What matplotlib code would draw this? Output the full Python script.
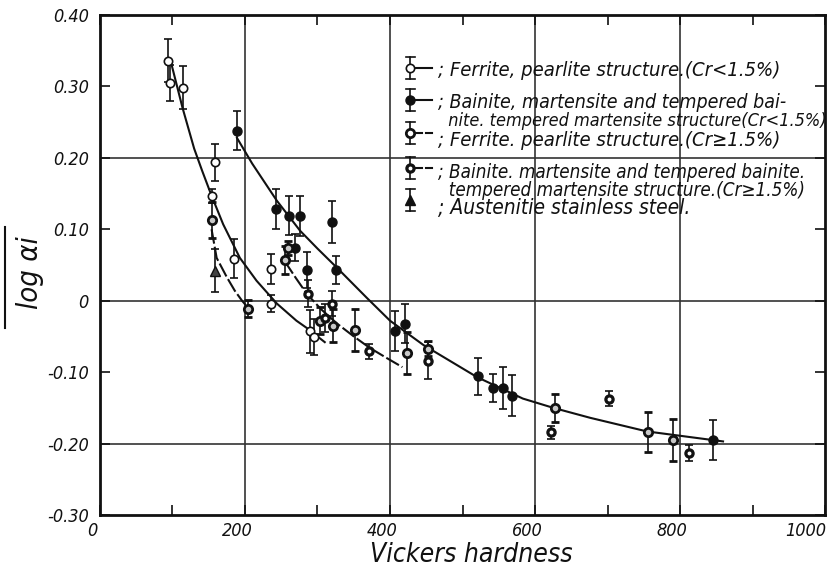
import matplotlib
matplotlib.use("Agg")
import matplotlib.pyplot as plt
from matplotlib.lines import Line2D
from matplotlib.transforms import ScaledTranslation

plt.rcParams['font.family'] = ['DejaVu Sans']
plt.rcParams['font.style'] = 'italic'
plt.rcParams['font.stretch'] = 'condensed'

# Ferrite, pearlite structure (Cr < 1.5%) - open circles
x_open = [94, 97, 114, 159, 154, 185, 236, 236, 290, 295]
y_open = [0.336, 0.305, 0.298, 0.194, 0.147, 0.059, 0.045, -0.004, -0.043, -0.051]
e_open = [0.03, 0.025, 0.03, 0.026, 0.01, 0.027, 0.021, 0.012, 0.03, 0.025]

# Bainite, martensite ... (Cr < 1.5%) - black circles
x_bain = [189, 243, 261, 276, 320, 326, 269, 286, 407, 421, 521, 542, 556, 568, 845]
y_bain = [0.238, 0.129, 0.119, 0.119, 0.11, 0.043, 0.074, 0.043, -0.042, -0.032,
          -0.106, -0.122, -0.122, -0.133, -0.195]
e_bain = [0.027, 0.028, 0.027, 0.028, 0.029, 0.02, 0.019, 0.025, 0.028, 0.027,
          0.026, 0.02, 0.029, 0.029, 0.028]

# Ferrite, pearlite structure (Cr >= 1.5%) - ringed circles
x_fcr = [154, 204, 255, 259, 303, 322, 352, 424, 452, 628, 756, 790]
y_fcr = [0.113, -0.011, 0.057, 0.074, -0.028, -0.035, -0.041, -0.073, -0.067,
         -0.15, -0.184, -0.195]
e_fcr = [0.025, 0.012, 0.02, 0.01, 0.019, 0.023, 0.029, 0.029, 0.01, 0.02, 0.028, 0.03]

# Bainite, martensite ... (Cr >= 1.5%) - black with dot
x_bcr = [287, 320, 371, 452, 622, 702, 812, 310]
y_bcr = [0.01, -0.004, -0.071, -0.084, -0.184, -0.137, -0.213, -0.024]
e_bcr = [0.019, 0.017, 0.011, 0.026, 0.009, 0.011, 0.011, 0.02]

# Austenitic stainless steel - triangle
x_aus = [159]
y_aus = [0.042]
e_aus = [0.03]

# curves
cA_x = [99, 114, 130, 141, 154, 170, 193, 216, 244, 271, 285, 310]
cA_y = [0.33, 0.27, 0.213, 0.182, 0.147, 0.107, 0.06, 0.028, -0.004, -0.028, -0.038, -0.058]
cB_x = [154, 161, 175, 186, 196, 201]
cB_y = [0.1, 0.06, 0.033, 0.014, 0.0, -0.006]
cC_x = [189, 210, 244, 276, 300, 327, 368, 400, 446, 520, 583, 625, 676, 754, 859]
cC_y = [0.228, 0.192, 0.14, 0.098, 0.073, 0.046, 0.004, -0.028, -0.062, -0.107,
        -0.137, -0.15, -0.164, -0.183, -0.197]
cD_x = [255, 270, 285, 305, 327, 350, 372, 395, 417]
cD_y = [0.055, 0.032, 0.01, -0.012, -0.032, -0.05, -0.066, -0.08, -0.093]

grid_x = [200, 400, 600, 800]
grid_y = [-0.2, 0.0, 0.2]
yticks = [-0.3, -0.2, -0.1, 0.0, 0.1, 0.2, 0.3, 0.4]
ylabels = ['-0.30', '-0.20', '-0.10', '0', '0.10', '0.20', '0.30', '0.40']
xticks = [0, 200, 400, 600, 800, 1000]

K = '#111111'

fig = plt.figure(figsize=(8.32, 5.72), dpi=100)
ax = fig.add_axes([0.120, 0.0997, 0.872, 0.874])
ax.set_xlim(0, 1000)
ax.set_ylim(-0.30, 0.40)

for gx in grid_x:
    ax.axvline(gx, color='#333333', lw=1.2, zorder=0)
for gy in grid_y:
    ax.axhline(gy, color='#333333', lw=1.2, zorder=0)

ax.plot(cA_x, cA_y, color=K, lw=1.5)
ax.plot(cB_x, cB_y, color=K, lw=1.5, ls=(0, (7, 1.5)))
ax.plot(cC_x, cC_y, color=K, lw=1.5)
ax.plot(cD_x, cD_y, color=K, lw=1.5, ls=(0, (7, 1.5)))

eb = dict(ecolor=K, elinewidth=1.2, capsize=3, capthick=1.2, ls='none', zorder=3)
ax.errorbar(x_open, y_open, yerr=e_open, fmt='o', ms=6, mfc='white', mec=K, mew=1.2, **eb)
ax.errorbar(x_bain, y_bain, yerr=e_bain, fmt='o', ms=6.5, mfc=K, mec=K, **eb)
ax.errorbar(x_fcr, y_fcr, yerr=e_fcr, fmt='o', ms=6, mfc='#c8c8c8', mec=K, mew=2.0, **eb)
ax.errorbar(x_bcr, y_bcr, yerr=e_bcr, fmt='o', ms=6.5, mfc=K, mec=K, **eb)
ax.plot(x_bcr, y_bcr, 'o', ms=1.8, mfc='white', mec='white', zorder=4)
ax.errorbar(x_aus, y_aus, yerr=e_aus, fmt='^', ms=6.5, mfc='#444444', mec=K, **eb)

ax.set_xticks(xticks)
ax.set_xticks(range(100, 1000, 200), minor=True)
ax.set_yticks(yticks)
ax.set_yticklabels(ylabels)
ax.tick_params(which='both', direction='in', top=True, right=True, length=7,
               width=1.2, labelsize=13, color=K, labelcolor=K)
ax.tick_params(axis='x', pad=5)
ax.tick_params(axis='y', pad=8)
xlabs = ax.get_xticklabels()
for i, lab in enumerate(xlabs):
    dx = -20 if i == len(xlabs) - 1 else -8
    lab.set_transform(lab.get_transform() + ScaledTranslation(dx / 100, 0, fig.dpi_scale_trans))
for s in ax.spines.values():
    s.set_linewidth(2)
    s.set_color(K)

# legend drawn by hand
rows = [
    (0.894, 'open', '-', [(0.89, '; Ferrite, pearlite structure.(Cr<1.5%)', 14.5)]),
    (0.830, 'black', '-', [(0.826, '; Bainite, martensite and tempered bai-', 14),
                           (0.788, '  nite. tempered martensite structure(Cr<1.5%)', 13)]),
    (0.764, 'ring', '--', [(0.750, '; Ferrite. pearlite structure.(Cr≥1.5%)', 14.5)]),
    (0.694, 'bdot', '--', [(0.686, '; Bainite. martensite and tempered bainite.', 13.5),
                           (0.650, '  tempered martensite structure.(Cr≥1.5%)', 13.5)]),
    (0.630, 'tri', None, [(0.614, '; Austenitie stainless steel.', 15)]),
]
tr = ax.transAxes
for ys, kind, lstyle, texts in rows:
    xs = 0.428
    h = 0.022
    ax.plot([xs, xs], [ys - h, ys + h], color=K, lw=1.2, transform=tr)
    ax.plot([xs - 0.006, xs + 0.006], [ys + h] * 2, color=K, lw=1.2, transform=tr)
    ax.plot([xs - 0.006, xs + 0.006], [ys - h] * 2, color=K, lw=1.2, transform=tr)
    if lstyle == '-':
        ax.plot([xs, xs + 0.03], [ys, ys], color=K, lw=1.5, transform=tr)
    elif lstyle == '--':
        ax.plot([xs + 0.008, xs + 0.016], [ys, ys], color=K, lw=1.5, transform=tr)
        ax.plot([xs + 0.021, xs + 0.03], [ys, ys], color=K, lw=1.5, transform=tr)
    if kind == 'open':
        ax.plot(xs, ys, 'o', ms=6, mfc='white', mec=K, mew=1.2, transform=tr)
    elif kind == 'black':
        ax.plot(xs, ys, 'o', ms=6.5, mfc=K, mec=K, transform=tr)
    elif kind == 'ring':
        ax.plot(xs, ys, 'o', ms=6, mfc='white', mec=K, mew=2.0, transform=tr)
    elif kind == 'bdot':
        ax.plot(xs, ys, 'o', ms=6.5, mfc=K, mec=K, transform=tr)
        ax.plot(xs, ys, 'o', ms=1.8, mfc='white', mec='white', transform=tr)
    else:
        ax.plot(xs, ys, '^', ms=6.5, mfc=K, mec=K, transform=tr)
    for yt, txt, fs in texts:
        ax.text(0.466, yt, txt, transform=tr, fontsize=fs, va='center', ha='left', color=K)

fig.text(471 / 832, 1 - 555 / 572, 'Vickers hardness', fontsize=19, ha='center',
         va='center', color=K)
fig.text(30 / 832, 1 - 273 / 572, 'log αi', fontsize=21, rotation=90, ha='center',
         va='center', color=K)
fig.add_artist(Line2D([5 / 832, 5 / 832], [1 - 227 / 572, 1 - 328 / 572], color=K, lw=1.5))

fig.savefig('out.png', dpi=100, facecolor='white')
